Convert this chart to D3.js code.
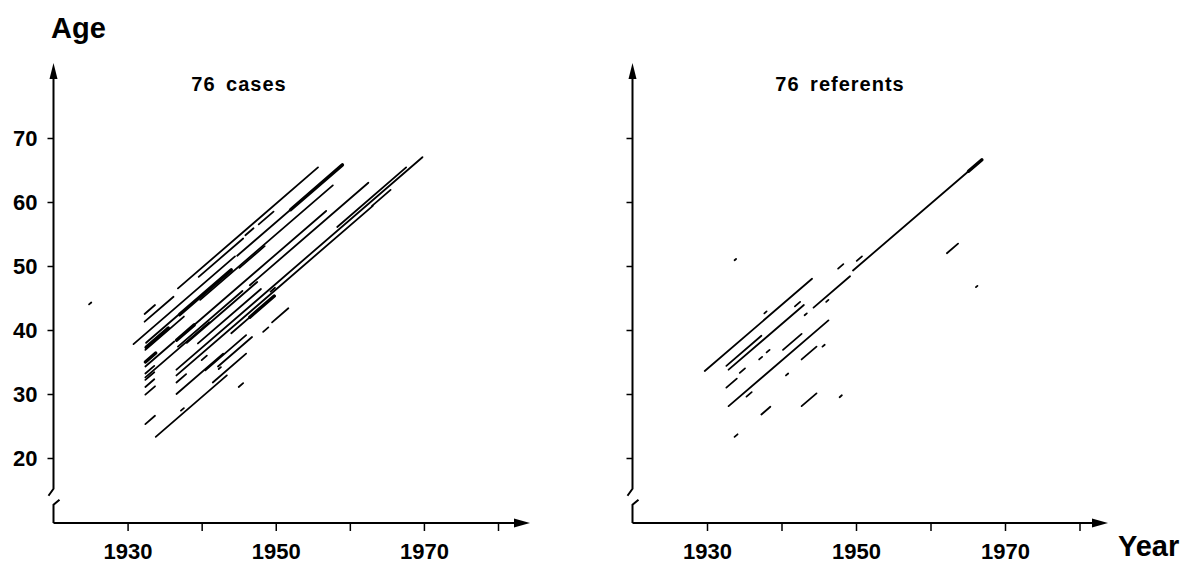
<!DOCTYPE html>
<html>
<head>
<meta charset="utf-8">
<script src="https://cdn.jsdelivr.net/npm/d3@7"></script>
<style>
  body { margin: 0; background: #fff; }
  text { font-family: "Liberation Sans", Arial, sans-serif; font-weight: bold; fill: #000; }
</style>
</head>
<body>
<svg></svg>
<script>
// tick values
const yearTicks = [1930, 1940, 1950, 1960, 1970, 1980]
const yearLabels = [1930, 1950, 1970]
const ageTicks = [20, 30, 40, 50, 60, 70]
const panelTitles = ['76 cases', '76 referents']

// follow-up segments: [entry year, entry age, exit year, exit age]
const cases = [
  [1936.8, 46.5, 1955.7, 65.4], [1932.3, 41.3, 1936.2, 45.2], [1932.3, 42.5, 1933.7, 43.9],
  [1939.6, 48.3, 1945.6, 54.3], [1945.9, 54.8, 1947.0, 55.9], [1947.7, 56.5, 1949.7, 58.5],
  [1930.8, 37.8, 1944.5, 51.5], [1944.8, 51.6, 1959.0, 65.8], [1932.5, 38.0, 1936.8, 42.3],
  [1937.0, 42.4, 1944.0, 49.4], [1939.8, 44.7, 1957.7, 62.6], [1932.4, 36.9, 1937.6, 42.1],
  [1936.6, 38.4, 1956.8, 58.6], [1936.8, 37.4, 1945.5, 46.1], [1946.5, 47.0, 1962.5, 63.0],
  [1932.4, 34.3, 1936.3, 38.2], [1936.6, 33.8, 1969.8, 67.0], [1958.3, 56.1, 1967.6, 65.4],
  [1963.0, 59.4, 1965.5, 61.9], [1936.6, 32.9, 1963.1, 59.4], [1932.4, 33.2, 1933.6, 34.4],
  [1932.4, 32.2, 1933.6, 33.4], [1932.4, 31.1, 1933.6, 32.3], [1932.4, 29.9, 1933.7, 31.2],
  [1932.4, 32.6, 1941.0, 41.2], [1936.6, 31.8, 1937.9, 33.1], [1936.6, 30.0, 1942.9, 36.3],
  [1933.8, 23.3, 1943.4, 32.9], [1932.4, 25.3, 1933.7, 26.6], [1937.2, 27.4, 1937.6, 27.8],
  [1945.0, 31.1, 1945.6, 31.7], [1942.3, 33.9, 1942.6, 34.2], [1940.0, 35.3, 1940.7, 36.0],
  [1942.2, 34.3, 1946.8, 38.9], [1948.3, 39.7, 1949.0, 40.4], [1949.5, 41.2, 1951.7, 43.4],
  [1944.0, 39.5, 1949.8, 45.3], [1949.3, 46.0, 1949.9, 46.6], [1945.1, 49.7, 1948.5, 53.1],
  [1938.0, 38.0, 1947.5, 47.5], [1939.5, 37.9, 1948.0, 46.4], [1940.5, 33.7, 1946.0, 39.2],
  [1941.5, 31.8, 1946.0, 36.3], [1924.8, 44.0, 1925.1, 44.3]
]
// stretches where several subjects overlap (printed heavier)
const casesHeavy = [
  [1952.0, 58.8, 1959.0, 65.8], [1937.0, 42.4, 1944.0, 49.4], [1936.6, 38.4, 1939.0, 40.8],
  [1932.4, 35.0, 1933.8, 36.4], [1946.5, 42.0, 1949.8, 45.3], [1932.5, 37.3, 1935.5, 40.3]
]

const referents = [
  [1929.7, 33.6, 1944.1, 48.0], [1932.6, 34.4, 1937.3, 39.1], [1932.9, 33.8, 1943.0, 43.9],
  [1941.8, 43.7, 1942.5, 44.4], [1940.2, 36.9, 1942.7, 39.4], [1942.7, 35.4, 1944.7, 37.4],
  [1932.6, 31.0, 1934.0, 32.4], [1932.9, 28.1, 1946.3, 41.5], [1935.3, 29.6, 1936.0, 30.3],
  [1937.3, 26.8, 1938.5, 28.0], [1942.7, 28.1, 1944.7, 30.1], [1944.3, 43.5, 1949.2, 48.4],
  [1949.6, 49.3, 1966.9, 66.6], [1947.6, 49.6, 1948.3, 50.3], [1950.1, 50.8, 1950.8, 51.5],
  [1962.2, 52.0, 1963.7, 53.5], [1934.4, 33.3, 1935.1, 34.0], [1937.0, 35.4, 1937.4, 35.8],
  [1938.0, 36.5, 1938.4, 36.9], [1933.7, 23.3, 1934.1, 23.7], [1946.0, 44.4, 1946.3, 44.7],
  [1943.1, 42.3, 1943.4, 42.6], [1937.7, 42.6, 1938.0, 42.9], [1945.5, 37.4, 1945.8, 37.7],
  [1940.6, 32.9, 1940.9, 33.2], [1947.8, 29.5, 1948.1, 29.8], [1933.7, 50.9, 1933.9, 51.1],
  [1966.1, 46.7, 1966.3, 46.9]
]
const referentsHeavy = [
  [1965.1, 64.8, 1966.9, 66.6]
]

let width = 1189
let height = 565
let axisY = 523
let axisTop = 63

let svg = d3.select('svg')
            .attr('width', width)
            .attr('height', height)

let y = d3.scaleLinear().domain([20, 70]).range([458, 138])

let panels = [
  { title: panelTitles[0], titleX: 239, data: cases, heavy: casesHeavy, labels: true,
    x: d3.scaleLinear().domain([1920, 1980]).range([53.5, 498]), arrowEnd: 530 },
  { title: panelTitles[1], titleX: 840, data: referents, heavy: referentsHeavy, labels: false,
    x: d3.scaleLinear().domain([1920, 1980]).range([632.5, 1079.5]), arrowEnd: 1108 }
]

panels.forEach(p => {
  let g = svg.append('g')
  let x = p.x
  let ax = x(1920)

  // y axis with break
  g.append('path')
    .attr('d', `M${ax},${axisTop + 10} V${y(15.2)} L${ax - 5},${y(15.2) + 7}`)
    .attr('fill', 'none').attr('stroke', '#000').attr('stroke-width', 2)
  g.append('path')
    .attr('d', `M${ax + 6},${y(15.2) + 11} L${ax},${y(15.2) + 16} V${axisY}`)
    .attr('fill', 'none').attr('stroke', '#000').attr('stroke-width', 2)
  g.append('path')
    .attr('d', `M${ax},${axisTop} L${ax - 4},${axisTop + 16} L${ax + 4},${axisTop + 16} Z`)
    .attr('fill', '#000')

  // x axis with arrow
  g.append('line')
    .attr('x1', ax).attr('x2', p.arrowEnd - 10)
    .attr('y1', axisY).attr('y2', axisY)
    .attr('stroke', '#000').attr('stroke-width', 2)
  g.append('path')
    .attr('d', `M${p.arrowEnd},${axisY} L${p.arrowEnd - 16},${axisY - 4.5} L${p.arrowEnd - 16},${axisY + 4.5} Z`)
    .attr('fill', '#000')

  let xAxis = g.append('g')
    .attr('transform', `translate(0,${axisY})`)
    .call(d3.axisBottom(x).tickValues(yearTicks).tickSize(8).tickPadding(12)
      .tickFormat(d => yearLabels.includes(d) ? d : ''))
  xAxis.select('.domain').remove()
  xAxis.selectAll('line').attr('stroke-width', 1.5)
  xAxis.selectAll('text').attr('font-size', 22).attr('font-family', null)

  let yAxis = g.append('g')
    .attr('transform', `translate(${ax},0)`)
    .call(d3.axisLeft(y).tickValues(ageTicks).tickSize(6).tickPadding(10)
      .tickFormat(d => p.labels ? d : ''))
  yAxis.select('.domain').remove()
  yAxis.selectAll('line').attr('stroke-width', 1.5)
  yAxis.selectAll('text').attr('font-size', 22).attr('font-family', null)

  // panel title
  g.append('text')
    .attr('x', p.titleX).attr('y', 91)
    .attr('text-anchor', 'middle')
    .attr('font-size', 20)
    .attr('letter-spacing', 1)
    .attr('word-spacing', 4)
    .text(p.title)

  // follow-up segments
  g.selectAll('.seg')
    .data(p.data)
    .enter()
    .append('line')
    .attr('x1', d => x(d[0])).attr('y1', d => y(d[1]))
    .attr('x2', d => x(d[2])).attr('y2', d => y(d[3]))
    .attr('stroke', '#000').attr('stroke-width', 1.8)
    .attr('stroke-linecap', 'round')

  g.selectAll('.heavy')
    .data(p.heavy)
    .enter()
    .append('line')
    .attr('x1', d => x(d[0])).attr('y1', d => y(d[1]))
    .attr('x2', d => x(d[2])).attr('y2', d => y(d[3]))
    .attr('stroke', '#000').attr('stroke-width', 3.4)
    .attr('stroke-linecap', 'round')
})

// axis titles
svg.append('text').attr('x', 51).attr('y', 38).attr('font-size', 29).text('Age')
svg.append('text').attr('x', 1118).attr('y', 556).attr('font-size', 29).text('Year')
</script>
</body>
</html>
